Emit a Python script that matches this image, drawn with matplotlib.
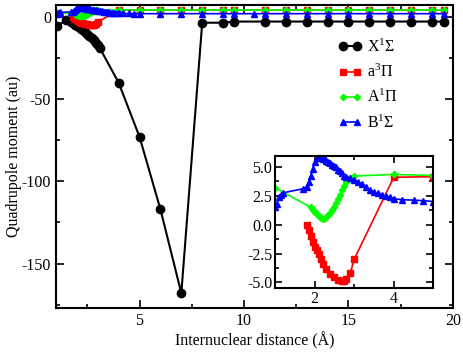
import matplotlib
matplotlib.use("Agg")
import matplotlib.pyplot as plt
from matplotlib.ticker import MultipleLocator

plt.rcParams['font.family'] = ['Liberation Serif', 'DejaVu Serif']
plt.rcParams['mathtext.fontset'] = 'custom'
plt.rcParams['mathtext.rm'] = 'Liberation Serif'
plt.rcParams['mathtext.it'] = 'Liberation Serif:italic'
plt.rcParams['axes.unicode_minus'] = False

far_x = [6, 7, 8, 9, 9.5, 11, 12, 13, 14, 15, 16, 17, 18, 19, 19.6]

x_X = [1.05, 1.5, 1.7, 1.8, 1.9, 2.0, 2.1, 2.2, 2.3, 2.4, 2.5, 2.6, 2.7, 2.8, 2.9, 3.0, 3.1,
       4, 5, 6, 7, 8, 9, 9.5, 11, 12, 13, 14, 15, 16, 17, 18, 19, 19.6]
y_X = [-5.5, -1.8, -3.0, -3.8, -4.6, -5.5, -6.3, -7.2, -8.2, -9.2, -10.2, -11.5, -12.8, -14.2,
       -15.6, -17.2, -19.0, -40, -73, -117, -168, -3.5, -3.5, -2.8, -2.8, -2.8, -2.8, -2.8,
       -2.8, -2.8, -2.8, -2.8, -2.8, -2.8]

x_a = [1.8, 1.85, 1.9, 1.95, 2.0, 2.05, 2.1, 2.15, 2.2, 2.3, 2.4, 2.5, 2.6, 2.7, 2.75, 2.8,
       2.9, 3.0, 4.0, 5.0] + far_x
y_a = [0.0, -0.5, -1.0, -1.5, -1.9, -2.2, -2.5, -3.0, -3.4, -3.8, -4.25, -4.55, -4.8, -4.9,
       -4.85, -4.75, -4.2, -3.0, 4.1, 4.15] + [4.1] * len(far_x)

x_A = [1.0, 1.9, 1.95, 2.0, 2.05, 2.1, 2.15, 2.2, 2.25, 2.3, 2.35, 2.4, 2.45, 2.5, 2.55, 2.6,
       2.65, 2.7, 2.75, 2.8, 2.9, 3.0, 4.0, 5.0] + far_x
y_A = [3.2, 1.5, 1.25, 1.1, 0.9, 0.75, 0.6, 0.5, 0.55, 0.65, 0.8, 1.0, 1.25, 1.5, 1.85, 2.2,
       2.6, 3.0, 3.35, 3.65, 4.0, 4.2, 4.35, 4.25] + [4.2] * len(far_x)

x_B = [1.0, 1.05, 1.1, 1.15, 1.2, 1.7, 1.8, 1.85, 1.9, 1.95, 2.0, 2.05, 2.1, 2.15, 2.2, 2.25,
       2.3, 2.35, 2.4, 2.45, 2.5, 2.55, 2.6, 2.65, 2.7, 2.75, 2.8, 2.9, 3.0, 3.1, 3.2, 3.3,
       3.4, 3.5, 3.6, 3.7, 3.8, 3.9, 4.0, 4.2, 4.5, 4.75, 5.0,
       6, 7, 8, 9, 9.5, 10.5, 11, 12, 13, 14, 15, 16, 17, 18, 19, 19.6]
y_B = [1.5, 1.8, 2.4, 2.6, 2.75, 3.1, 3.3, 3.7, 4.2, 4.8, 5.4, 5.75, 5.85, 5.8, 5.7, 5.65,
       5.55, 5.45, 5.3, 5.2, 5.08, 4.95, 4.75, 4.6, 4.45, 4.25, 4.15, 4.0, 3.9, 3.7, 3.5, 3.25,
       3.0, 2.85, 2.7, 2.55, 2.45, 2.35, 2.25, 2.16, 2.12, 2.07, 2.0,
       2.0, 2.0, 2.0, 2.0, 2.0, 2.0, 2.0, 2.0, 2.0, 2.0, 2.0, 2.0, 2.0, 2.0, 2.0, 2.0]

labels = ['X$^{1}$\u03A3', 'a$^{3}$\u03A0', 'A$^{1}$\u03A0', 'B$^{1}$\u03A3']

fig = plt.figure(figsize=(4.63, 3.54), dpi=100)
ax = fig.add_axes([0.121, 0.130, 0.857, 0.856])

styles = [
    dict(color='black', marker='o', ms=6.0, lw=1.5),
    dict(color='#ff0000', marker='s', ms=4.2, lw=1.2),
    dict(color='#00ff00', marker='D', ms=3.2, lw=1.2),
    dict(color='#0000ff', marker='^', ms=4.4, lw=1.2),
]
series = [(x_X, y_X), (x_a, y_a), (x_A, y_A), (x_B, y_B)]

for (xs, ys), st, lab in zip(series, styles, labels):
    ax.plot(xs, ys, label=lab, **st)

ax.set_xlim(1, 20)
ax.set_ylim(-177, 7.3)
ax.xaxis.set_major_locator(MultipleLocator(5))
ax.xaxis.set_minor_locator(MultipleLocator(2.5))
ax.yaxis.set_major_locator(MultipleLocator(50))
ax.yaxis.set_minor_locator(MultipleLocator(25))
ax.tick_params(which='both', direction='in', top=True, right=True, labelsize=11.5, width=1.2)
ax.tick_params(which='major', length=6)
ax.tick_params(which='minor', length=3)
for s in ax.spines.values():
    s.set_linewidth(1.5)
ax.set_xlabel('Internuclear distance (\u00C5)', fontsize=11.5, labelpad=2)
ax.set_ylabel('Quadrupole moment (au)', fontsize=11.5, labelpad=0)

leg = ax.legend(loc='upper left', bbox_to_anchor=(0.695, 0.91), frameon=False, numpoints=2,
                handlelength=1.5, fontsize=11.5, labelspacing=0.5, handletextpad=0.3,
                borderaxespad=0)

ins = fig.add_axes([0.594, 0.186, 0.342, 0.372])
for (xs, ys), st in zip(series[1:], styles[1:]):
    ins.plot(xs, ys, **st)
ins.set_xlim(1, 5)
ins.set_ylim(-5.5, 5.9)
ins.xaxis.set_major_locator(MultipleLocator(2))
ins.xaxis.set_minor_locator(MultipleLocator(1))
ins.yaxis.set_major_locator(MultipleLocator(2.5))
ins.yaxis.set_minor_locator(MultipleLocator(1.25))
ins.tick_params(which='both', direction='in', top=True, right=True, labelsize=11.5, width=1.2, pad=2)
ins.tick_params(which='major', length=5)
ins.tick_params(which='minor', length=3)
for s in ins.spines.values():
    s.set_linewidth(1.5)

fig.savefig('out.png', dpi=100)
